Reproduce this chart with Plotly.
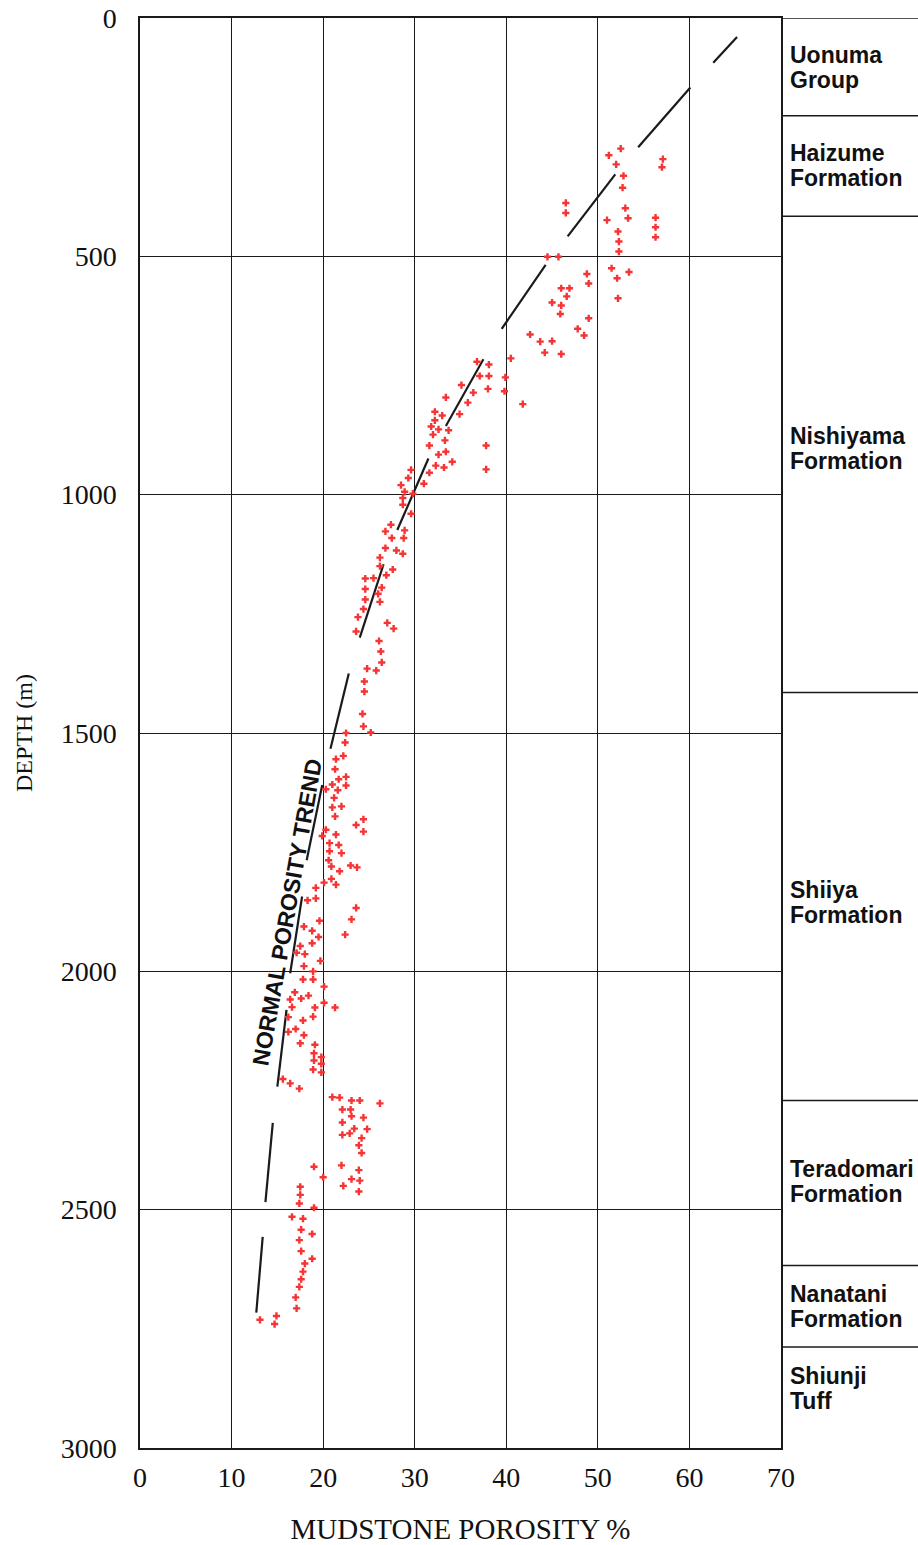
import plotly.graph_objects as go

# ---------------- data ----------------
porosity = [
    52.5, 51.2, 52.0, 57.1, 57.0, 52.8, 52.7, 46.5, 46.5, 53.0, 53.3, 51.0, 56.3, 56.3, 56.3, 52.2, 52.3, 52.3,
    44.5, 45.7, 51.5, 53.4, 52.1, 48.8, 49.0, 46.0, 46.9, 46.6, 45.0, 46.0, 45.9, 52.2, 49.0, 47.8, 48.5, 42.6,
    43.7, 45.0, 44.2, 46.0, 40.5, 36.8, 38.1, 37.1, 38.1, 39.9, 38.0, 39.8, 35.1, 36.4, 33.4, 41.8, 35.8, 32.2,
    33.0, 32.2, 34.9, 31.8, 32.6, 33.7, 32.0, 33.3, 31.6, 37.8, 33.4, 32.6, 32.3, 33.2, 34.1, 37.8, 31.6, 29.6,
    29.3, 31.0, 28.5, 28.9, 29.8, 28.7, 28.7, 29.6, 27.4, 26.8, 28.9, 27.5, 28.8, 26.8, 28.0, 28.7, 26.2, 26.2,
    27.6, 26.9, 24.6, 25.5, 26.4, 24.6, 26.0, 24.6, 26.2, 24.4, 23.8, 23.6, 27.0, 27.7, 26.1, 26.3, 26.4, 24.8,
    25.8, 24.5, 24.5, 24.3, 24.4, 25.2, 22.5, 22.4, 22.2, 21.4, 21.3, 22.5, 21.7, 21.0, 22.5, 20.3, 21.6, 21.2,
    21.0, 22.0, 21.3, 24.4, 23.6, 24.4, 20.3, 19.9, 21.4, 20.7, 21.7, 20.7, 22.0, 20.6, 20.9, 23.0, 23.7, 21.8,
    20.9, 21.4, 20.1, 19.2, 19.2, 18.3, 23.6, 23.1, 19.6, 17.9, 18.8, 19.5, 22.4, 17.5, 18.8, 17.1, 18.0, 19.7,
    17.9, 18.9, 17.8, 18.9, 20.1, 16.9, 18.4, 17.6, 16.4, 20.1, 16.6, 19.1, 21.3, 16.2, 18.9, 17.8, 17.0, 16.2,
    17.9, 17.5, 19.1, 19.0, 19.8, 19.0, 19.8, 18.9, 19.8, 15.6, 16.4, 17.4, 21.0, 21.8, 23.1, 24.0, 26.2, 22.1,
    23.0, 23.1, 24.4, 22.1, 23.4, 24.8, 22.1, 22.9, 24.2, 23.9, 24.2, 19.0, 22.0, 23.9, 20.0, 23.1, 24.0, 17.5,
    22.2, 23.9, 17.5, 17.4, 19.0, 16.6, 17.8, 17.6, 18.8, 17.4, 17.6, 18.8, 18.0, 17.8, 17.6, 17.4, 17.0, 17.1,
    13.1, 14.9, 14.7,
]
depth = [
    274, 288, 307, 296, 313, 331, 356, 388, 409, 399, 420, 424, 419, 439, 460, 448, 469, 490,
    501, 501, 525, 533, 546, 537, 557, 567, 567, 584, 597, 603, 621, 588, 630, 652, 666, 664,
    679, 678, 702, 705, 714, 721, 727, 751, 751, 754, 778, 783, 770, 786, 796, 810, 807, 826,
    834, 844, 831, 857, 863, 865, 874, 886, 897, 897, 910, 916, 939, 943, 931, 947, 954, 948,
    965, 977, 980, 994, 998, 1007, 1021, 1040, 1063, 1077, 1075, 1091, 1091, 1112, 1117, 1124, 1132, 1150,
    1157, 1169, 1176, 1175, 1195, 1198, 1208, 1220, 1225, 1240, 1257, 1287, 1269, 1281, 1307, 1329, 1352, 1365,
    1369, 1392, 1413, 1460, 1486, 1499, 1500, 1520, 1548, 1555, 1576, 1592, 1597, 1608, 1610, 1618, 1620, 1636,
    1656, 1654, 1675, 1681, 1693, 1707, 1703, 1716, 1713, 1731, 1735, 1748, 1752, 1767, 1780, 1778, 1782, 1790,
    1806, 1818, 1814, 1825, 1847, 1851, 1867, 1891, 1894, 1906, 1915, 1928, 1923, 1947, 1941, 1961, 1964, 1978,
    1989, 2000, 2017, 2017, 2032, 2044, 2051, 2057, 2059, 2066, 2075, 2076, 2076, 2096, 2095, 2103, 2121, 2127,
    2134, 2151, 2154, 2172, 2180, 2187, 2194, 2206, 2212, 2226, 2235, 2246, 2264, 2265, 2271, 2271, 2277, 2290,
    2290, 2304, 2307, 2317, 2330, 2331, 2343, 2340, 2350, 2365, 2381, 2410, 2407, 2417, 2432, 2436, 2439, 2452,
    2450, 2462, 2469, 2487, 2496, 2515, 2519, 2542, 2551, 2564, 2587, 2603, 2613, 2630, 2646, 2662, 2684, 2707,
    2731, 2723, 2740,
]

# normal porosity trend (dashes as drawn, None = gap)
trend_porosity = [65.2, 62.6, None, 60.1, 54.4, None, 51.9, 46.7, None, 44.3, 39.5, None,
                  37.5, 33.4, None, 31.5, 28.1, None, 26.6, 24.0, None, 22.8, 20.8, None,
                  19.9, 18.2, None, 17.7, 16.4, None, 16.0, 15.0, None, 14.5, 13.7, None, 13.4, 12.7]
trend_depth = [40, 94, None, 146, 271, None, 328, 458, None, 518, 652, None,
               716, 856, None, 924, 1074, None, 1146, 1300, None, 1375, 1533, None,
               1609, 1767, None, 1843, 2004, None, 2081, 2242, None, 2318, 2484, None, 2557, 2716]

x_ticks = [0, 10, 20, 30, 40, 50, 60, 70]
y_ticks = [0, 500, 1000, 1500, 2000, 2500, 3000]

formation_line1 = ["Uonuma", "Haizume", "Nishiyama", "Shiiya", "Teradomari", "Nanatani", "Shiunji"]
formation_line2 = ["Group", "Formation", "Formation", "Formation", "Formation", "Formation", "Tuff"]
formation_label_depth = [104, 310, 903, 1856, 2441, 2703, 2876]
formation_boundaries = [205, 416, 1415, 2271, 2617, 2788]

# ---------------- figure ----------------
W, H = 918, 1545
ML, MR, MT, MB = 140, 0, 18, 97
panel_start = (781 - ML) / (W - ML - MR)

fig = go.Figure()

fig.add_trace(go.Scatter(
    x=trend_porosity, y=trend_depth, mode="lines",
    line=dict(color="#1a1a1a", width=2.2), connectgaps=False,
    hoverinfo="skip", showlegend=False))

fig.add_trace(go.Scatter(
    x=porosity, y=depth, mode="markers",
    marker=dict(symbol="cross", size=6, color="#f53535", line=dict(width=0)),
    showlegend=False))

serif = "Liberation Serif, Times New Roman, serif"
sans = "Liberation Sans, Arial, sans-serif"
linecol = "#1a1a1a"

fig.update_xaxes(
    domain=[0, panel_start], range=[0, 70], tickvals=x_ticks, ticks="", automargin=False,
    showgrid=True, gridcolor=linecol, gridwidth=1.2, zeroline=False,
    showline=True, linecolor=linecol, linewidth=1.5, mirror=True, ticklabeloverflow="allow",
    tickfont=dict(family=serif, size=28, color="#111"), ticklabelstandoff=4,
    title=dict(text="MUDSTONE POROSITY %", font=dict(family=serif, size=29, color="#111"), standoff=26))

fig.update_yaxes(
    range=[3000, 0], tickvals=y_ticks, ticks="", automargin=False,
    showgrid=True, gridcolor=linecol, gridwidth=1.2, zeroline=False,
    showline=True, linecolor=linecol, linewidth=1.5, mirror=True, ticklabeloverflow="allow",
    tickfont=dict(family=serif, size=28, color="#111"), ticklabelstandoff=16,
    title=dict(text="DEPTH (m)", font=dict(family=serif, size=24, color="#111"), standoff=21))

shapes = [dict(type="line", xref="paper", yref="y", x0=panel_start, x1=1, y0=0, y1=0,
               line=dict(color=linecol, width=1.5))]
for b in formation_boundaries:
    shapes.append(dict(type="line", xref="paper", yref="y", x0=panel_start, x1=1, y0=b, y1=b,
                       line=dict(color=linecol, width=1.5)))

annotations = []
label_x = panel_start + 7 / (W - ML - MR)
for l1, l2, d in zip(formation_line1, formation_line2, formation_label_depth):
    annotations.append(dict(x=label_x, y=d, xref="paper", yref="y", text=l1, showarrow=False,
                            xanchor="left", yanchor="middle", yshift=12.5,
                            font=dict(family=sans, size=23, color="#111", weight="bold")))
    annotations.append(dict(x=label_x, y=d, xref="paper", yref="y", text=l2, showarrow=False,
                            xanchor="left", yanchor="middle", yshift=-12.5,
                            font=dict(family=sans, size=23, color="#111", weight="bold")))

annotations.append(dict(x=16.1, y=1876, xref="x", yref="y", text="NORMAL POROSITY TREND",
                        showarrow=False, textangle=-80,
                        font=dict(family=sans, size=23, color="#111", weight="bold")))

fig.update_layout(
    width=W, height=H, margin=dict(l=ML, r=MR, t=MT, b=MB),
    paper_bgcolor="white", plot_bgcolor="white",
    shapes=shapes, annotations=annotations, showlegend=False)

fig.write_html("out.html", config={"displayModeBar": False},
               post_script="document.body.style.margin='0px';document.body.style.overflow='hidden';")
